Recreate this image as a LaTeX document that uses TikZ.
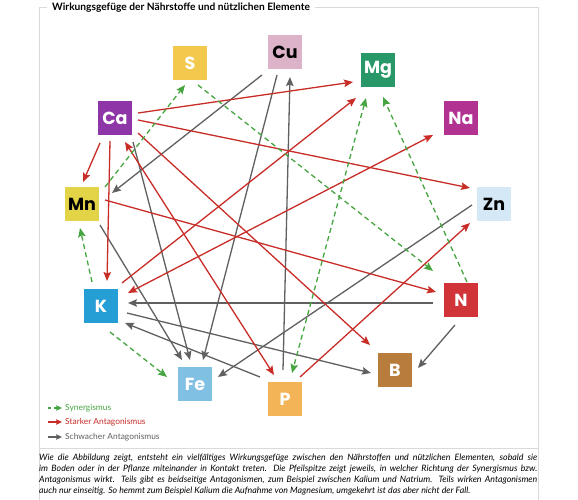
\documentclass[tikz,border=0pt]{standalone}
\usepackage{fontspec}
\setmainfont{Lato}
\setsansfont{Lato}
\newfontfamily\elfont{Poppins}
\usetikzlibrary{arrows.meta,calc}
\definecolor{cS}{RGB}{242,201,76}
\definecolor{cCu}{RGB}{221,179,201}
\definecolor{cMg}{RGB}{40,152,104}
\definecolor{cNa}{RGB}{178,50,145}
\definecolor{cZn}{RGB}{213,232,245}
\definecolor{cN}{RGB}{208,52,56}
\definecolor{cB}{RGB}{184,125,60}
\definecolor{cP}{RGB}{242,180,87}
\definecolor{cFe}{RGB}{128,192,226}
\definecolor{cK}{RGB}{37,157,213}
\definecolor{cMn}{RGB}{227,212,71}
\definecolor{cCa}{RGB}{142,53,168}
\definecolor{synC}{RGB}{70,165,65}
\definecolor{strC}{RGB}{200,45,40}
\definecolor{weakC}{RGB}{96,96,96}
\definecolor{frameC}{RGB}{218,218,218}
\begin{document}
\begin{tikzpicture}[x=1pt,y=-1pt,
  elem/.style={minimum size=34pt, inner sep=0pt, text=white,
    font=\elfont\fontsize{17.5}{17.5}\selectfont\bfseries},
  tipA/.style={-{Stealth[length=9pt,width=7.5pt,inset=1.5pt]}},
  tipB/.style={{Stealth[length=9pt,width=7.5pt,inset=1.5pt]}-{Stealth[length=9pt,width=7.5pt,inset=1.5pt]}},
  syn/.style={draw=synC, line width=1.3pt, dash pattern=on 5pt off 3.5pt},
  strong/.style={draw=strC, line width=1.3pt},
  weak/.style={draw=weakC, line width=1.3pt},
  legtip/.style={-{Stealth[length=6pt,width=5.5pt,inset=1pt]}},
  legtext/.style={anchor=west, inner sep=0pt, font=\fontsize{8.4}{9}\selectfont}
]
\useasboundingbox (0,0) rectangle (578,500);
\fill[white] (0,0) rectangle (578,500);
% frame
\draw[frameC, line width=0.8pt] (39,7.5) rectangle (538,448);
\draw[frameC, line width=0.8pt] (39,448) -- (39,500);
\draw[frameC, line width=0.8pt] (538,448) -- (538,500);
\node[fill=white, inner xsep=5pt, inner ysep=1pt, anchor=west,
  font=\fontsize{10.2}{11}\selectfont\bfseries] (title) at (47,8)
  {Wirkungsgefüge der Nährstoffe und nützlichen Elemente};
% elements
\node[elem, fill=cS] (S) at (190,63) {S};
\node[elem, fill=cCu, text=black] (Cu) at (285,52) {Cu};
\node[elem, fill=cMg] (Mg) at (378,70) {Mg};
\node[elem, fill=cNa] (Na) at (461,118) {Na};
\node[elem, fill=cZn, text=black] (Zn) at (494,204) {Zn};
\node[elem, fill=cN] (N) at (461,300) {N};
\node[elem, fill=cB] (B) at (395,370) {B};
\node[elem, fill=cP] (P) at (285,399) {P};
\node[elem, fill=cFe] (Fe) at (195,384) {Fe};
\node[elem, fill=cK] (K) at (101,306) {K};
\node[elem, fill=cMn, text=black] (Mn) at (82,204) {Mn};
\node[elem, fill=cCa] (Ca) at (115,118) {Ca};
% weak antagonism
\draw[weak, tipA] ($(Cu)+(-23,23)$) -- ($(Mn)+(30,-11)$);
\draw[weak, tipA] ($(Cu)+(-8,23)$) -- ($(Fe)+(8,-24)$);
\draw[weak, tipA] ($(P)+(-2,-29)$) -- ($(Cu)+(5,25)$);
\draw[weak, tipA] ($(Ca)+(18,24)$) -- ($(Fe)+(-5,-24)$);
\draw[weak, tipA] ($(Mn)+(18,21)$) -- ($(Fe)+(-13,-24)$);
\draw[weak, tipA] ($(N)+(-28,3)$) -- ($(K)+(27,-3)$);
\draw[weak, tipA] ($(K)+(26,7)$) -- ($(B)+(-24,3)$);
\draw[weak, tipA] ($(P)+(-25,-22)$) -- ($(K)+(24,17)$);
\draw[weak, tipA] ($(Zn)+(-22,1)$) -- ($(Fe)+(23,-7)$);
\draw[weak, tipA] ($(N)+(-6,25)$) -- ($(B)+(23,-2)$);
% strong antagonism
\draw[strong, tipA] ($(Ca)+(23,-5)$) -- ($(Mg)+(-25,12)$);
\draw[strong, tipA] ($(Ca)+(23,2)$) -- ($(Zn)+(-24,-16)$);
\draw[strong, tipA] ($(Ca)+(-15,25)$) -- ($(Mn)+(1,-22)$);
\draw[strong, tipA] ($(Ca)+(-5,23)$) -- ($(K)+(6,-25)$);
\draw[strong, tipA] ($(Ca)+(23,15)$) -- ($(B)+(-25,-25)$);
\draw[strong, tipB] ($(Ca)+(10,24)$) -- ($(P)+(-11,-24)$);
\draw[strong, tipA] ($(Mn)+(23,-4)$) -- ($(N)+(-25,-8)$);
\draw[strong, tipA] ($(K)+(21,-23)$) -- ($(Mg)+(-22,28)$);
\draw[strong, tipB] ($(K)+(27,-13)$) -- ($(Na)+(-28,17)$);
\draw[strong, tipA] ($(P)+(15,-22)$) -- ($(Zn)+(-24,19)$);
% synergism
\draw[syn, tipA] ($(Mn)+(23,-17)$) -- ($(S)+(-5,22)$);
\draw[syn, tipA] ($(S)+(8,22)$) -- ($(N)+(-28,-29)$);
\draw[syn, tipA] ($(N)+(6,-18)$) -- ($(Mg)+(5,27)$);
\draw[syn, tipB] ($(Mg)+(-12,28)$) -- ($(P)+(7,-26)$);
\draw[syn, tipA] ($(K)+(-9,-24)$) -- ($(Mn)+(-2,24)$);
\draw[syn, tipA] ($(K)+(9,26)$) -- ($(Fe)+(-28,-7)$);
% legend
\coordinate (l1a) at (48,408); \coordinate (l1b) at (62,408);
\coordinate (l2a) at (48,422); \coordinate (l2b) at (62,422);
\coordinate (l3a) at (48,437); \coordinate (l3b) at (62,437);
\draw[syn, dash pattern=on 3pt off 2.5pt, line width=1.2pt, legtip] (l1a) -- (l1b);
\draw[strong, line width=1.2pt, legtip] (l2a) -- (l2b);
\draw[weak, line width=1.2pt, legtip] (l3a) -- (l3b);
\node[legtext, text=synC] (t1) at (65,408) {Synergismus};
\node[legtext, text=strC] (t2) at (65,422) {Starker Antagonismus};
\node[legtext, text=weakC] (t3) at (65,437) {Schwacher Antagonismus};
% caption
\node[anchor=north west, inner sep=0pt, align=left,
  font=\itshape\fontsize{8.8}{10.9}\selectfont] (cap) at (39,454)
{\makebox[498pt][s]{Wie die Abbildung zeigt, entsteht ein vielfältiges Wirkungsgefüge zwischen den Nährstoffen und nützlichen Elementen, sobald sie}\\
\makebox[498pt][s]{im Boden oder in der Pflanze miteinander in Kontakt treten. Die Pfeilspitze zeigt jeweils, in welcher Richtung der Synergismus bzw.}\\
\makebox[498pt][s]{Antagonismus wirkt. Teils gibt es beidseitige Antagonismen, zum Beispiel zwischen Kalium und Natrium. Teils wirken Antagonismen}\\
auch nur einseitig. So hemmt zum Beispiel Kalium die Aufnahme von Magnesium, umgekehrt ist das aber nicht der Fall.};
\end{tikzpicture}
\end{document}
